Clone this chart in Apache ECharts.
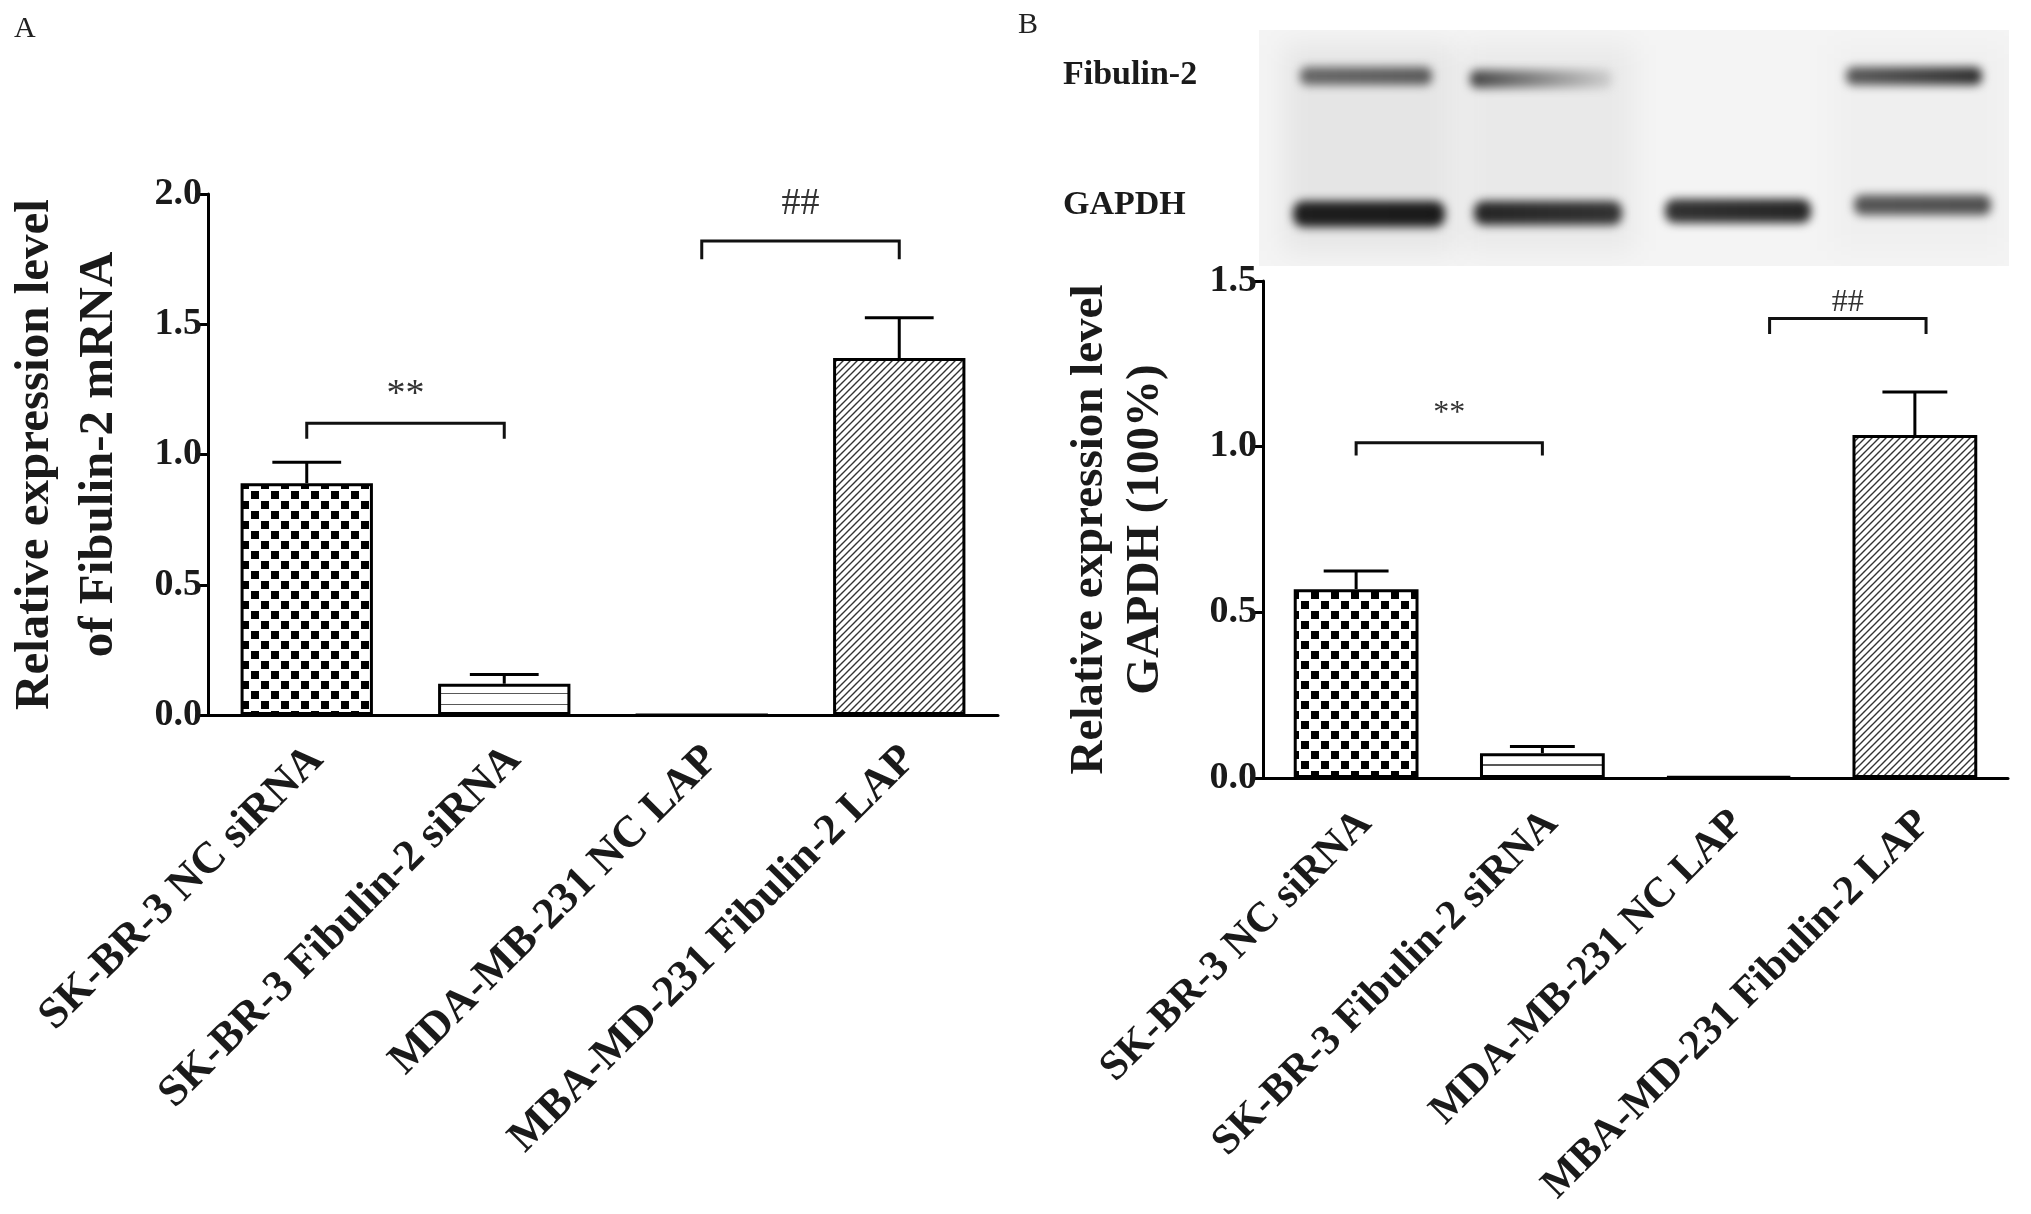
<!DOCTYPE html>
<html><head><meta charset="utf-8">
<script src="https://cdn.jsdelivr.net/npm/echarts@6/dist/echarts.min.js"></script>
<style>html,body{margin:0;padding:0;background:#fff}#c{width:2031px;height:1214px}</style>
</head><body><div id="c"></div>
<script>
// ---------- data ----------
const categories = ['SK-BR-3 NC siRNA', 'SK-BR-3 Fibulin-2 siRNA', 'MDA-MB-231 NC LAP', 'MBA-MD-231 Fibulin-2 LAP'];
const meanA = [0.89, 0.12, 0, 1.37];
const semA  = [0.08, 0.035, 0, 0.155];
const meanB = [0.57, 0.075, 0.004, 1.035];
const semB  = [0.055, 0.02, 0, 0.13];
const yTicksA = [0, 0.5, 1.0, 1.5, 2.0];
const yTicksB = [0, 0.5, 1.0, 1.5];
const titleA = 'Relative expression level\nof Fibulin-2 mRNA';
const titleB = 'Relative expression level\nGAPDH (100%)';
// significance brackets: category positions (from,to), bracket height, leg end, label height
const sigLabelsA = ['**', '##'];
const sigFromA = [0, 2];
const sigToA   = [1, 3];
const sigYA    = [1.12, 1.82];
const sigLegA  = [1.06, 1.75];
const sigTextYA = [1.23, 1.96];
const sigLabelsB = ['**', '##'];
const sigFromB = [0, 2.22];
const sigToB   = [1, 3.06];
const sigYB    = [1.012, 1.387];
const sigLegB  = [0.973, 1.34];
const sigTextYB = [1.10, 1.435];

// ---------- layout / style ----------
const FONT = 'Liberation Serif, Times New Roman, serif';
const gridA = {left: 208, top: 194, width: 790, height: 521};
const gridB = {left: 1263, top: 281, width: 745, height: 497};

function checkerPattern() {
  const c = document.createElement('canvas'); c.width = 20; c.height = 20;
  const g = c.getContext('2d');
  g.fillStyle = '#fff'; g.fillRect(0, 0, 20, 20);
  g.fillStyle = '#000';
  g.fillRect(1, 1, 8, 8); g.fillRect(11, 11, 8, 8);
  return c;
}
function hatchPattern() {
  const s = 7;
  const c = document.createElement('canvas'); c.width = s; c.height = s;
  const g = c.getContext('2d');
  g.fillStyle = '#fff'; g.fillRect(0, 0, s, s);
  g.strokeStyle = '#333'; g.lineWidth = 1.4;
  g.beginPath();
  g.moveTo(-1, s + 1); g.lineTo(s + 1, -1);
  g.moveTo(-1, 1); g.lineTo(1, -1);
  g.moveTo(s - 1, s + 1); g.lineTo(s + 1, s - 1);
  g.stroke();
  return c;
}
function hLinePattern(tile, axisY) {
  const c = document.createElement('canvas'); c.width = 4; c.height = tile;
  const g = c.getContext('2d');
  g.fillStyle = '#fff'; g.fillRect(0, 0, 4, tile);
  const off = ((axisY - tile) % tile + tile) % tile;
  g.fillStyle = '#222'; g.fillRect(0, off - 0.75, 4, 1.5);
  return c;
}
function roundRect(g, x, y, w, h, r) {
  g.beginPath();
  g.moveTo(x + r, y); g.lineTo(x + w - r, y); g.arcTo(x + w, y, x + w, y + r, r);
  g.lineTo(x + w, y + h - r); g.arcTo(x + w, y + h, x + w - r, y + h, r);
  g.lineTo(x + r, y + h); g.arcTo(x, y + h, x, y + h - r, r);
  g.lineTo(x, y + r); g.arcTo(x, y, x + r, y, r); g.closePath();
}
function makeBlot() {
  const W = 750, H = 236;
  const c = document.createElement('canvas'); c.width = W; c.height = H;
  const g = c.getContext('2d');
  g.fillStyle = '#f4f4f4'; g.fillRect(0, 0, W, H);
  g.filter = 'blur(14px)';
  g.fillStyle = 'rgba(0,0,0,0.06)'; g.fillRect(25, 15, 170, H - 30);
  g.fillStyle = 'rgba(0,0,0,0.045)'; g.fillRect(205, 15, 170, H - 30);
  g.fillStyle = 'rgba(0,0,0,0.02)'; g.fillRect(575, 15, 170, H - 30);
  g.filter = 'blur(5px)';
  function band(x1, x2, cy, h, c1, c2) {
    const gr = g.createLinearGradient(x1, 0, x2, 0);
    gr.addColorStop(0, c1); gr.addColorStop(1, c2);
    g.fillStyle = gr;
    roundRect(g, x1, cy - h / 2, x2 - x1, h, h / 2.5);
    g.fill();
  }
  band(41, 173, 46, 18, '#666', '#5a5a5a');
  band(211, 353, 49, 18, '#444', '#cfcfcf');
  band(587, 723, 46, 18, '#5a5a5a', '#2e2e2e');
  band(34, 186, 184, 26, '#1e1e1e', '#1a1a1a');
  band(215, 363, 183, 24, '#262626', '#333');
  band(406, 552, 181, 24, '#333', '#262626');
  band(595, 732, 175, 20, '#555', '#505050');
  return c;
}

const axisY_A = gridA.top + gridA.height;
const axisY_B = gridB.top + gridB.height;
const fillsA = [checkerPattern(), hLinePattern(11, axisY_A), '#fff', hatchPattern()];
const fillsB = [checkerPattern(), hLinePattern(13, axisY_B), '#fff', hatchPattern()];

function catAxis(gi, margin, fs) {
  return {
    type: 'category', gridIndex: gi, data: categories,
    axisLine: {lineStyle: {color: '#000', width: 3}},
    axisTick: {alignWithLabel: true, length: 17, lineStyle: {color: '#000', width: 3}},
    axisLabel: {rotate: 45, interval: 0, margin: margin, verticalAlign: 'top', padding: [0, 8, 0, 0],
      fontFamily: FONT, fontWeight: 'bold', fontSize: fs, color: '#1a1a1a'},
    splitLine: {show: false}
  };
}
function valAxis(gi, ticks, name, nameGap, fs, lh) {
  return {
    type: 'value', gridIndex: gi, min: ticks[0], max: ticks[ticks.length - 1], interval: ticks[1] - ticks[0],
    splitLine: {show: false},
    axisLine: {show: true, onZero: false, lineStyle: {color: '#000', width: 3}},
    axisTick: {show: true, length: 10, lineStyle: {color: '#000', width: 3}},
    axisLabel: {formatter: v => v.toFixed(1), margin: 6, fontFamily: FONT, fontWeight: 'bold', fontSize: 38, color: '#1a1a1a'},
    name: name, nameLocation: 'middle', nameRotate: 90, nameGap: nameGap,
    nameTextStyle: {fontFamily: FONT, fontWeight: 'bold', fontSize: fs, lineHeight: lh, color: '#1a1a1a'}
  };
}
function barSeries(xi, yi, means, fills) {
  return {
    type: 'bar', xAxisIndex: xi, yAxisIndex: yi, barWidth: '67%', z: 3,
    data: means.map((m, i) => ({value: m, itemStyle: {color: typeof fills[i] === 'string' ? fills[i] : {image: fills[i], repeat: 'repeat'}}})),
    itemStyle: {borderColor: '#000', borderWidth: 3}
  };
}
function errSeries(xi, yi, means, sems) {
  return {
    type: 'custom', xAxisIndex: xi, yAxisIndex: yi, z: 2,
    data: means.map((m, i) => [i, m, sems[i]]),
    renderItem: (params, api) => {
      const i = api.value(0), m = api.value(1), e = api.value(2);
      if (!e) return null;
      const p0 = api.coord([i, m]), p1 = api.coord([i, m + e]);
      const hw = api.size([1, 0])[0] * 0.67 * 0.26;
      return {type: 'group', children: [
        {type: 'line', shape: {x1: p0[0], y1: p0[1], x2: p1[0], y2: p1[1]}, style: {stroke: '#000', lineWidth: 3}},
        {type: 'line', shape: {x1: p1[0] - hw, y1: p1[1], x2: p1[0] + hw, y2: p1[1]}, style: {stroke: '#000', lineWidth: 3}}
      ]};
    }
  };
}
function sigSeries(xi, yi, labels, from, to, ys, legs, tys, fs) {
  return {
    type: 'custom', xAxisIndex: xi, yAxisIndex: yi, z: 4,
    data: labels.map((l, i) => [from[i], to[i], ys[i], legs[i], tys[i]]),
    renderItem: (params, api) => {
      const a = api.coord([api.value(0), api.value(2)]);
      const b = api.coord([api.value(1), api.value(2)]);
      const la = api.coord([api.value(0), api.value(3)]);
      const t = api.coord([(api.value(0) + api.value(1)) / 2, api.value(4)]);
      return {type: 'group', children: [
        {type: 'polyline', shape: {points: [[la[0], la[1]], a, b, [b[0], la[1]]]}, style: {stroke: '#111', lineWidth: 3, fill: null}},
        {type: 'text', style: {text: labels[params.dataIndex], x: t[0], y: t[1], align: 'center', verticalAlign: 'middle',
          fontFamily: FONT, fontSize: fs, fill: '#333'}}
      ]};
    }
  };
}

const chart = echarts.init(document.getElementById('c'), null, {renderer: 'canvas'});
chart.setOption({
  animation: false,
  backgroundColor: '#fff',
  grid: [
    Object.assign({containLabel: false, outerBoundsMode: 'none'}, gridA),
    Object.assign({containLabel: false, outerBoundsMode: 'none'}, gridB)
  ],
  xAxis: [
    catAxis(0, 17, 44),
    {type: 'value', gridIndex: 0, min: -0.5, max: 3.5, show: false},
    catAxis(1, 19, 42),
    {type: 'value', gridIndex: 1, min: -0.5, max: 3.5, show: false}
  ],
  yAxis: [
    valAxis(0, yTicksA, titleA, 77, 49, 64),
    valAxis(1, yTicksB, titleB, 89, 47, 56)
  ],
  series: [
    barSeries(0, 0, meanA, fillsA),
    errSeries(0, 0, meanA, semA),
    sigSeries(1, 0, sigLabelsA, sigFromA, sigToA, sigYA, sigLegA, sigTextYA, 38),
    barSeries(2, 1, meanB, fillsB),
    errSeries(2, 1, meanB, semB),
    sigSeries(3, 1, sigLabelsB, sigFromB, sigToB, sigYB, sigLegB, sigTextYB, 32)
  ],
  graphic: [
    {type: 'image', left: 1259, top: 30, z: 0, style: {image: makeBlot(), width: 750, height: 236}},
    {type: 'text', left: 14, top: 14, style: {text: 'A', fontFamily: FONT, fontSize: 30, fill: '#222'}},
    {type: 'text', left: 1018, top: 10, style: {text: 'B', fontFamily: FONT, fontSize: 30, fill: '#222'}},
    {type: 'text', left: 1063, top: 58, style: {text: 'Fibulin-2', fontFamily: FONT, fontWeight: 'bold', fontSize: 34, fill: '#1a1a1a'}},
    {type: 'text', left: 1063, top: 188, style: {text: 'GAPDH', fontFamily: FONT, fontWeight: 'bold', fontSize: 34, fill: '#1a1a1a'}}
  ]
});
</script></body></html>
